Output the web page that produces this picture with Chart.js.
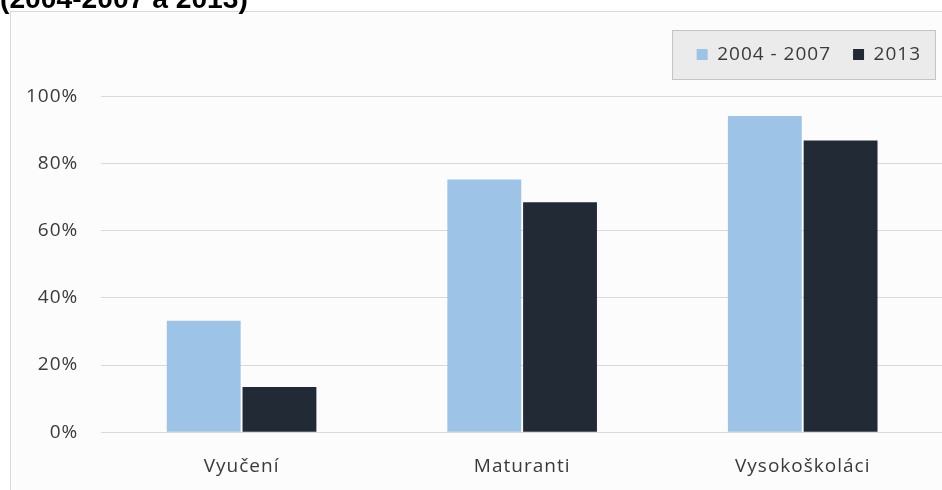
<!DOCTYPE html>
<html>
<head>
<meta charset="utf-8">
<script src="https://cdn.jsdelivr.net/npm/chart.js@4.4.1/dist/chart.umd.min.js"></script>
<style>
  html, body { margin: 0; padding: 0; width: 942px; height: 490px; overflow: hidden; background: #ffffff; }
  #frame { position: absolute; left: 10px; top: 11px; width: 1000px; height: 600px; border-top: 1px solid #d9d9d9; border-left: 1px solid #d9d9d9; background: #fcfcfc; }
  #c { position: absolute; left: 0; top: 0; }
</style>
</head>
<body>
<div id="frame"></div>
<canvas id="c" width="950" height="497" style="width:950px;height:497px"></canvas>
<script>
const titleText = '(2004-2007 a 2013)';
const categories = ['Vyučení', 'Maturanti', 'Vysokoškoláci'];
const seriesNames = ['2004 - 2007', '2013'];
const values2004_2007 = [33.2, 75.3, 94.2];
const values2013 = [13.5, 68.5, 86.9];
const yTicks = [0, 20, 40, 60, 80, 100];

const spacing = '1px';
const fontFamily = '"Open Sans", "Noto Sans", sans-serif';
const textColor = '#3a3a3a';

const decorPlugin = {
  id: 'decor',
  beforeUpdate(chart) { chart.ctx.letterSpacing = spacing; },
  beforeLayout(chart) { chart.ctx.letterSpacing = spacing; },
  beforeDraw(chart) {
    const ctx = chart.ctx;
    ctx.letterSpacing = spacing;
    const lg = chart.legend;
    if (lg && lg.legendHitBoxes && lg.legendHitBoxes.length) {
      const hb = lg.legendHitBoxes;
      const first = hb[0], last = hb[hb.length - 1];
      const cy = first.top + first.height / 2;
      const x0 = Math.round(first.left - 25) + 0.5;
      const x1 = Math.round(last.left + last.width + 14) + 0.5;
      const y0 = Math.round(cy - 24.5) + 0.5;
      const y1 = Math.round(cy + 24.5) + 0.5;
      ctx.save();
      ctx.fillStyle = '#ebebeb';
      ctx.fillRect(x0, y0, x1 - x0, y1 - y0);
      ctx.strokeStyle = '#c4c4c4';
      ctx.lineWidth = 1;
      ctx.strokeRect(x0, y0, x1 - x0, y1 - y0);
      ctx.restore();
    }
  },
  afterDraw(chart) {
    const ctx = chart.ctx;
    ctx.save();
    ctx.letterSpacing = '0px';
    ctx.font = 'bold 30px "Liberation Sans", Arial, sans-serif';
    const w = ctx.measureText(titleText).width;
    const fs = 30 * 248 / w;
    ctx.font = 'bold ' + fs.toFixed(2) + 'px "Liberation Sans", Arial, sans-serif';
    ctx.fillStyle = '#000000';
    ctx.textBaseline = 'alphabetic';
    ctx.textAlign = 'left';
    ctx.fillText(titleText, 0, 8);
    ctx.restore();
  }
};

new Chart(document.getElementById('c'), {
  type: 'bar',
  data: {
    labels: categories,
    datasets: [
      { label: seriesNames[0], data: values2004_2007, backgroundColor: '#9dc3e6', borderWidth: 0 },
      { label: seriesNames[1], data: values2013, backgroundColor: '#222a35', borderWidth: 0 }
    ]
  },
  options: {
    responsive: false,
    animation: false,
    devicePixelRatio: 1,
    layout: { padding: { left: 3, right: 7, top: 23, bottom: 4 } },
    datasets: { bar: { categoryPercentage: 0.54, barPercentage: 0.975 } },
    plugins: {
      legend: {
        position: 'top',
        align: 'end',
        labels: {
          boxWidth: 11, boxHeight: 11, padding: 22,
          color: textColor,
          font: { family: fontFamily, size: 19 }
        }
      },
      subtitle: { display: true, text: '', padding: 0, weight: 500, font: { size: 10, lineHeight: '22.5px' } },
      title: { display: false },
      tooltip: { enabled: false }
    },
    scales: {
      x: {
        grid: { display: false },
        border: { display: false },
        ticks: { color: textColor, padding: 15, font: { family: fontFamily, size: 19 } }
      },
      y: {
        min: 0, max: 100,
        afterBuildTicks(scale) { scale.ticks = yTicks.map(v => ({ value: v })); },
        grid: { color: '#d9d9d9', lineWidth: 1, drawTicks: false },
        border: { display: false },
        ticks: {
          color: textColor, padding: 23,
          font: { family: fontFamily, size: 19 },
          callback: v => v + '%'
        }
      }
    }
  },
  plugins: [decorPlugin]
});
</script>
</body>
</html>
